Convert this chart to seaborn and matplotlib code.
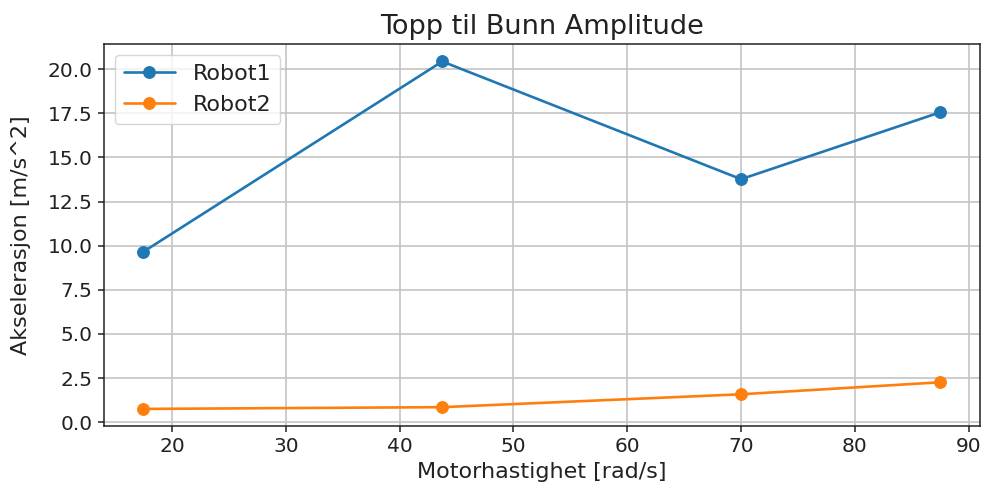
import matplotlib
matplotlib.use("Agg")
import matplotlib.pyplot as plt
import seaborn as sns
import pandas as pd

speed = [17.5, 43.75, 70.0, 87.5]
robot1 = [9.66, 20.44, 13.77, 17.56]
robot2 = [0.75, 0.85, 1.58, 2.26]

df = pd.DataFrame({
    "speed": speed * 2,
    "value": robot1 + robot2,
    "robot": ["Robot1"] * len(speed) + ["Robot2"] * len(speed),
})

sns.set_style("ticks")
plt.rcParams["font.family"] = ["DejaVu Sans"]
plt.rcParams["text.color"] = "#222222"
plt.rcParams["axes.labelcolor"] = "#222222"
plt.rcParams["xtick.color"] = "#222222"
plt.rcParams["ytick.color"] = "#222222"

fig = plt.figure(figsize=(9.87, 4.9), dpi=100)
ax = fig.add_axes([0.105, 0.130, 0.888, 0.780])

palette = {"Robot1": "#1f77b4", "Robot2": "#ff7f0e"}
for name in ["Robot1", "Robot2"]:
    sub = df[df["robot"] == name]
    sns.lineplot(data=sub, x="speed", y="value", ax=ax, color=palette[name],
                 marker="o", markersize=8.5, markeredgecolor=palette[name],
                 linewidth=1.9, label=name, estimator=None, sort=False)

ax.grid(True, color="#c4c4c4", linewidth=1.2)
ax.set_axisbelow(True)
ax.set_title("Topp til Bunn Amplitude", fontsize=19.5, pad=7)
ax.set_xlabel("Motorhastighet [rad/s]", fontsize=16, labelpad=4)
ax.set_ylabel("Akselerasjon [m/s^2]", fontsize=16, labelpad=12)
ax.tick_params(labelsize=14.5, direction="out", length=4.5, width=1.1)
ax.set_yticks([0, 2.5, 5, 7.5, 10, 12.5, 15, 17.5, 20])
ax.set_yticklabels(["0.0", "2.5", "5.0", "7.5", "10.0", "12.5", "15.0", "17.5", "20.0"])
for s in ax.spines.values():
    s.set_color("#222222")
    s.set_linewidth(1.1)
ax.legend(loc="upper left", fontsize=16, frameon=True, handlelength=2.3)

fig.savefig("out.png", dpi=100)
